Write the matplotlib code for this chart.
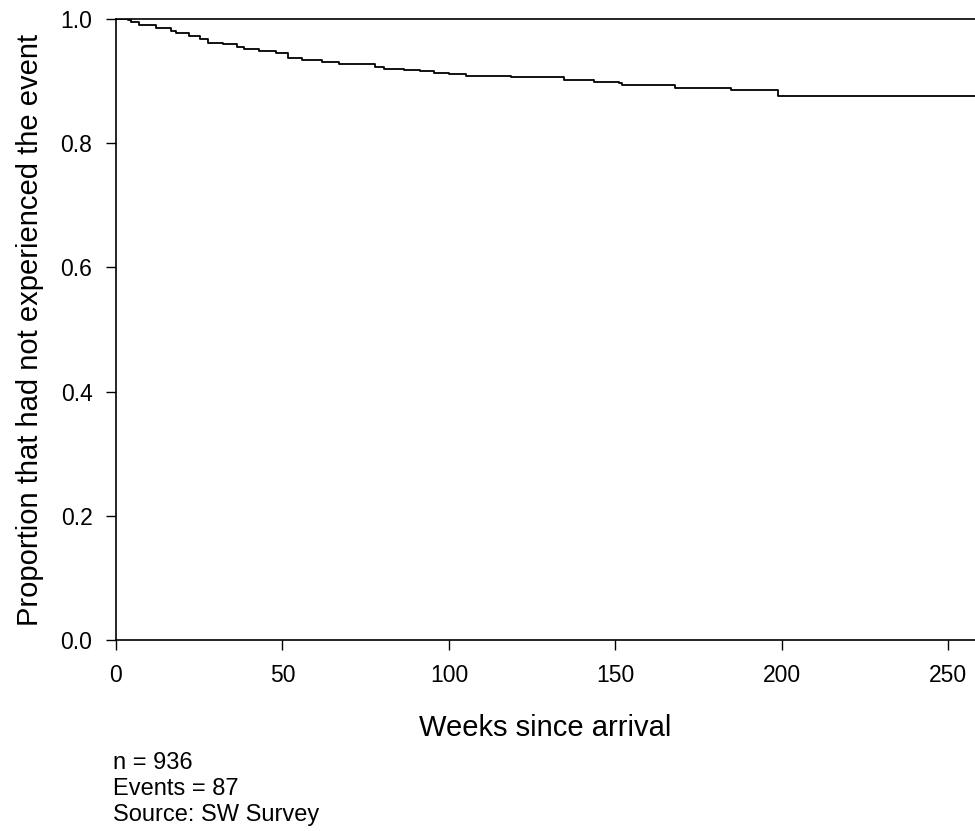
import matplotlib
matplotlib.use("Agg")
import matplotlib.pyplot as plt
import numpy as np

# Kaplan-Meier style step curve
weeks = [0, 3.6, 4.5, 7, 12, 16.6, 18, 22, 25.3, 27.7, 32, 36.4, 38.5,
         42.8, 48, 51.8, 56, 62, 67, 77.7, 80.4, 86.4, 91.3, 95.5, 100,
         105, 118.7, 134.6, 143.7, 151.2, 152, 167.8, 184.6, 198.8, 258]
surv = [1.0, 0.998, 0.995, 0.991, 0.985, 0.981, 0.977, 0.973, 0.968, 0.962,
        0.959, 0.955, 0.952, 0.948, 0.945, 0.937, 0.934, 0.930, 0.927, 0.923,
        0.920, 0.918, 0.916, 0.913, 0.911, 0.909, 0.907, 0.902, 0.899, 0.897,
        0.894, 0.889, 0.885, 0.876, 0.876]

x_ticks = [0, 50, 100, 150, 200, 250]
y_ticks = [0.0, 0.2, 0.4, 0.6, 0.8, 1.0]
notes = ["n = 936", "Events = 87", "Source: SW Survey"]

plt.rcParams['font.family'] = ['Liberation Sans', 'DejaVu Sans']

fig = plt.figure(figsize=(9.75, 8.31), dpi=100)
ax = fig.add_axes([116/975, 1-640/831, 1-116/975, 621/831])

ax.step(weeks, surv, where='post', color='black', lw=1.3)

ax.set_xlim(0, 258)
ax.set_ylim(0, 1)
ax.set_xticks(x_ticks)
ax.set_yticks(y_ticks)
ax.set_yticklabels(["%.1f" % v for v in y_ticks])
ax.tick_params(labelsize=16.5, length=7, width=1, pad=10)
ax.spines['right'].set_visible(False)
for s in ['left', 'bottom', 'top']:
	ax.spines[s].set_linewidth(1.2)

ax.set_xlabel("Weeks since arrival", fontsize=21, labelpad=20)
ax.set_ylabel("Proportion that had not experienced the event", fontsize=21, labelpad=12)

# notes under the plot
for i, t in enumerate(notes):
	fig.text(113/975, 1-(763+i*26)/831, t, fontsize=17, va='center', ha='left')

fig.savefig("out.png", dpi=100)
